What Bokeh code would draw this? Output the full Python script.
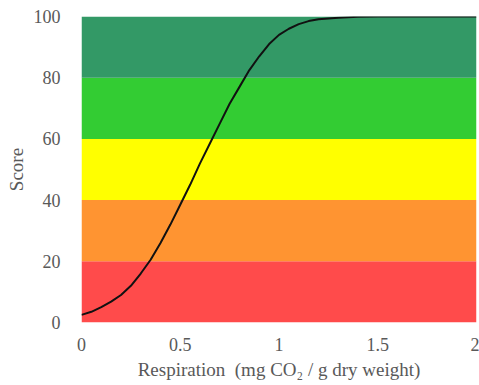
from bokeh.plotting import figure
from bokeh.models import FixedTicker, CustomJSTickFormatter, Range1d
from bokeh.embed import file_html
from bokeh.resources import INLINE

# Score bands (lower bound, upper bound, colour)
band_bottom = [0, 20, 40, 60, 80]
band_top = [20, 40, 60, 80, 100]
band_color = ["#FF4B4B", "#FF9431", "#FFFF00", "#33CC33", "#339966"]

# Scoring curve: respiration (mg CO2 / g dry weight) vs score
respiration = [0.0, 0.05, 0.1, 0.15, 0.2, 0.25, 0.3, 0.35, 0.4, 0.45, 0.5,
               0.55, 0.6, 0.65, 0.7, 0.75, 0.8, 0.85, 0.9, 0.95, 1.0,
               1.05, 1.1, 1.15, 1.2, 1.3, 1.4, 1.5, 1.75, 2.0]
score = [2.5, 3.5, 5.0, 6.8, 9.0, 12.0, 16.0, 20.5, 26.0, 32.0, 38.5,
         45.0, 52.0, 58.5, 65.0, 71.5, 77.0, 82.5, 87.0, 91.0, 94.0,
         96.0, 97.5, 98.5, 99.1, 99.6, 99.9, 100.0, 100.0, 100.0]

x_ticks = [0, 0.5, 1, 1.5, 2]
y_ticks = [0, 20, 40, 60, 80, 100]

p = figure(width=479, height=385, output_backend="svg", toolbar_location=None,
           x_range=Range1d(0, 2), y_range=Range1d(0, 100))
p.min_border_left = 81
p.min_border_right = 3
p.min_border_top = 16
p.min_border_bottom = 63
p.outline_line_color = None
p.xgrid.visible = False
p.ygrid.visible = False
p.background_fill_color = "white"
p.border_fill_color = "white"

p.quad(left=0, right=2, bottom=band_bottom, top=band_top,
       fill_color=band_color, line_color=None)
p.line(respiration, score, line_color="#111111", line_width=2,
       line_join="round")

font = "'Liberation Serif', serif"
for ax in (p.xaxis[0], p.yaxis[0]):
    ax.axis_line_color = None
    ax.major_tick_line_color = None
    ax.minor_tick_line_color = None
    ax.major_label_text_font = font
    ax.major_label_text_font_size = "18px"
    ax.major_label_text_color = "#595959"
    ax.axis_label_text_font = font
    ax.axis_label_text_font_size = "19px"
    ax.axis_label_text_color = "#595959"
    ax.axis_label_text_font_style = "normal"
    ax.formatter = CustomJSTickFormatter(code="return tick.toString();")

p.xaxis.ticker = FixedTicker(ticks=x_ticks)
p.yaxis.ticker = FixedTicker(ticks=y_ticks)
p.xaxis.major_label_standoff = 9
p.yaxis.major_label_standoff = 15
p.xaxis.axis_label = "Respiration\u2002(mg CO\u2082 / g dry weight)"
p.yaxis.axis_label = "Score"
p.xaxis.axis_label_standoff = 5
p.yaxis.axis_label_standoff = 4

open("out.html", "w").write(file_html(p, INLINE))
